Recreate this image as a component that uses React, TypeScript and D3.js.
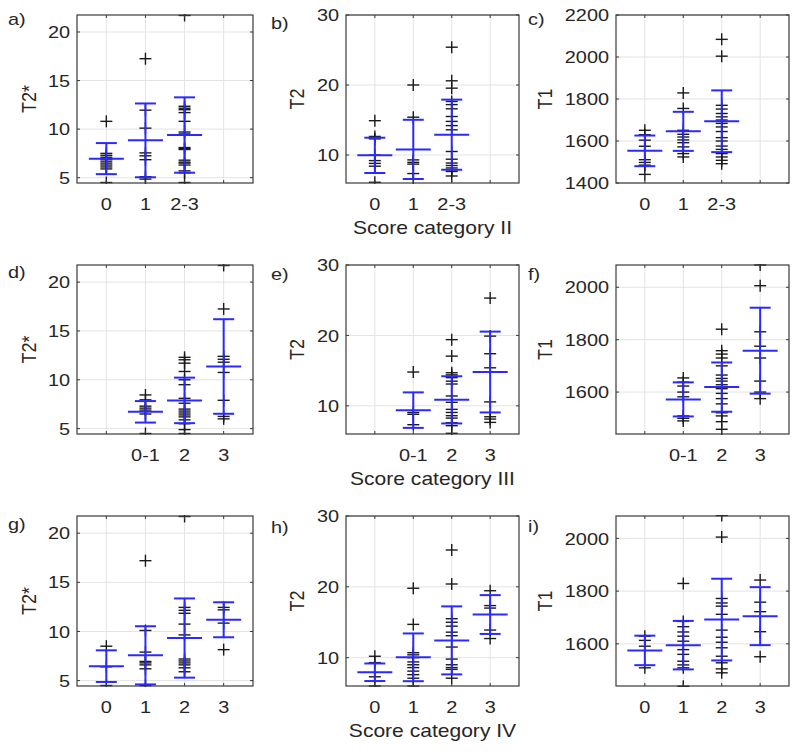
import React from "react";
import * as d3 from "d3";

// ---------- categories ----------
const catsII = ["0", "1", "2-3", ""];
const catsIII = ["", "0-1", "2", "3"];
const catsIV = ["0", "1", "2", "3"];

// ---------- T2* points ----------
const t2sA = [
  [10.8, 7.5, 7.3, 7.1, 6.9, 6.7, 6.5, 6.3, 6.1, 5.9, 4.5],
  [17.25, 11.95, 10.1, 7.55, 7.25, 6.85, 5.1, 4.85],
  [21.7, 12.35, 12.15, 12.0, 11.7, 10.8, 9.7, 9.5, 8.1, 8.0, 7.9, 6.8, 6.6, 6.5, 6.3, 5.7, 5.5, 4.5],
];
const t2sAMean = [6.96, 8.84, 9.39];
const t2sASd = [1.6, 3.8, 3.88];

const t2sD = [
  [8.45, 7.95, 7.3, 7.1, 6.9, 6.5, 4.5],
  [12.3, 12.05, 11.7, 10.85, 10.0, 9.5, 8.1, 7.6, 7.0, 6.8, 6.6, 6.4, 6.2, 5.9, 5.5, 4.9, 4.5],
  [21.7, 17.25, 12.4, 12.1, 11.8, 10.75, 7.9, 6.25, 6.0],
];
const t2sDMean = [6.72, 7.89, 11.36];
const t2sDSd = [1.1, 2.33, 4.84];

const t2sG = [
  [8.5, 6.4, 4.5],
  [17.2, 10.1, 7.9, 6.95, 6.8, 6.6, 6.2, 4.5],
  [21.7, 12.45, 12.15, 11.85, 10.75, 9.65, 7.2, 7.0, 6.8, 6.6, 6.3, 5.9],
  [12.45, 12.2, 10.85, 8.15],
];
const t2sGMean = [6.47, 7.57, 9.33, 11.19];
const t2sGSd = [1.61, 2.96, 4.03, 1.78];

// ---------- T2 points ----------
const t2B = [
  [14.9, 12.65, 12.3, 10.0, 9.2, 8.8, 8.4, 6.1],
  [20.0, 15.4, 9.3, 8.95, 8.7, 7.35, 6.6],
  [25.4, 20.6, 19.55, 17.65, 17.2, 16.6, 15.5, 14.8, 14.2, 13.6, 10.5, 9.4, 8.85, 8.5, 8.15, 7.9, 7.65, 7.0],
];
const t2BMean = [9.95, 10.8, 12.9];
const t2BSd = [2.52, 4.23, 5.01];

const t2E = [
  [14.8, 9.06, 8.8, 7.32],
  [19.4, 17.06, 14.7, 14.4, 14.0, 13.5, 13.1, 11.4, 10.5, 9.5, 9.06, 8.6, 8.26, 7.6, 7.18, 6.1],
  [25.3, 19.9, 17.4, 15.4, 10.56, 8.45, 8.12, 7.65],
];
const t2EMean = [9.39, 10.85, 14.8];
const t2ESd = [2.52, 3.35, 5.74];

const t2H = [
  [10.2, 9.3, 7.3, 6.0],
  [19.8, 14.7, 10.7, 10.4, 10.0, 9.4, 9.0, 8.6, 8.1, 7.6, 7.1, 6.0],
  [25.2, 20.4, 15.5, 15.0, 14.45, 13.6, 13.1, 11.5, 9.8, 9.0, 8.6, 8.35, 7.1],
  [19.45, 17.35, 17.0, 13.9, 12.7],
];
const t2HMean = [7.94, 10.05, 12.44, 16.09];
const t2HSd = [1.24, 3.37, 4.8, 2.74];

// ---------- T1 points ----------
const t1C = [
  [1651, 1630, 1604, 1575, 1511, 1498, 1485, 1441],
  [1829, 1755, 1651, 1632, 1619, 1605, 1592, 1572, 1540, 1524],
  [2084, 2004, 1770, 1752, 1731, 1715, 1700, 1684, 1667, 1645, 1616, 1600, 1576, 1560, 1540, 1524, 1508, 1492],
];
const t1CMean = [1553, 1646, 1694];
const t1CSd = [73, 93, 147];

const t1F = [
  [1654, 1638, 1623, 1600, 1582, 1509, 1500, 1490],
  [1840, 1758, 1745, 1730, 1700, 1665, 1652, 1642, 1628, 1613, 1595, 1575, 1555, 1521, 1509, 1487, 1458],
  [2085, 2006, 1830, 1775, 1730, 1642, 1600, 1575],
];
const t1FMean = [1572, 1619, 1758];
const t1FSd = [65, 94, 164];

const t1I = [
  [1629, 1613, 1591, 1509],
  [1829, 1685, 1665, 1645, 1629, 1610, 1578, 1560, 1534, 1520, 1509, 1439],
  [2087, 2005, 1772, 1755, 1743, 1712, 1652, 1625, 1606, 1585, 1553, 1528, 1505, 1490],
  [1842, 1758, 1722, 1646, 1551],
];
const t1IMean = [1575, 1595, 1692, 1705];
const t1ISd = [56, 92, 155, 110];

// ---------- ticks ----------
const t2sTicks = [5, 10, 15, 20];
const t2Ticks = [10, 20, 30];
const t1TicksC = [1400, 1600, 1800, 2000, 2200];
const t1TicksFI = [1600, 1800, 2000];

const FONT = "'Liberation Sans', Arial, Helvetica, sans-serif";
const TXT = "#262626";
const BLUE = "#2a2aff";
const SX = 1.17;

function T(props: { x: number; y: number; anchor?: string; size: number; dy?: string; children: React.ReactNode }) {
  return (
    <g transform={`translate(${props.x},${props.y}) scale(${SX},1)`}>
      <text x={0} y={0} dy={props.dy} textAnchor={props.anchor || "start"} fontSize={props.size} fill={TXT} fontFamily={FONT}>
        {props.children}
      </text>
    </g>
  );
}

type PanelProps = {
  letter: string;
  left: number;
  right: number;
  top: number;
  bottom: number;
  yDomain: [number, number];
  yTicks: number[];
  yLabel: string;
  cats: string[];
  startPos: number;
  points: number[][];
  means: number[];
  sds: number[];
  xTitle?: string;
  letterDy: number;
  letterX: number;
  yLabelX: number;
};

function Panel(p: PanelProps) {
  const x = d3.scaleLinear().domain([0.25, 4.75]).range([p.left, p.right]);
  const y = d3.scaleLinear().domain(p.yDomain).range([p.bottom, p.top]);
  const xTicks = [1, 2, 3, 4];
  const clipId = "clip-" + p.letter;
  const mk = 6;
  return (
    <g>
      <defs>
        <clipPath id={clipId}>
          <rect x={p.left - 20} y={p.top - 1} width={p.right - p.left + 40} height={p.bottom - p.top + 2} />
        </clipPath>
      </defs>
      <rect x={p.left} y={p.top} width={p.right - p.left} height={p.bottom - p.top} fill="#fff" />
      {xTicks.map((t) => (
        <line key={"gx" + t} x1={x(t)} x2={x(t)} y1={p.top} y2={p.bottom} stroke="#e3e3e3" strokeWidth={1} />
      ))}
      {p.yTicks.map((t) => (
        <line key={"gy" + t} x1={p.left} x2={p.right} y1={y(t)} y2={y(t)} stroke="#e3e3e3" strokeWidth={1} />
      ))}
      <g clipPath={`url(#${clipId})`}>
        {p.points.map((arr, i) =>
          arr.map((v, j) => {
            const cx = x(p.startPos + i);
            const cy = y(v);
            return (
              <g key={`p${i}-${j}`} stroke="#1a1a1a" strokeWidth={1.4}>
                <line x1={cx - mk} x2={cx + mk} y1={cy} y2={cy} />
                <line x1={cx} x2={cx} y1={cy - mk} y2={cy + mk} />
              </g>
            );
          })
        )}
        {p.means.map((m, i) => {
          const cx = x(p.startPos + i);
          const hi = y(m + p.sds[i]);
          const lo = y(m - p.sds[i]);
          const ym = y(m);
          return (
            <g key={"e" + i} stroke={BLUE} strokeWidth={2}>
              <line x1={cx} x2={cx} y1={hi} y2={lo} />
              <line x1={cx - 10.5} x2={cx + 10.5} y1={hi} y2={hi} />
              <line x1={cx - 10.5} x2={cx + 10.5} y1={lo} y2={lo} />
              <line x1={cx - 17.5} x2={cx + 17.5} y1={ym} y2={ym} />
            </g>
          );
        })}
      </g>
      <rect x={p.left} y={p.top} width={p.right - p.left} height={p.bottom - p.top} fill="none" stroke="#3a3a3a" strokeWidth={1.2} />
      {xTicks.map((t) => (
        <g key={"tx" + t} stroke="#3a3a3a" strokeWidth={1}>
          <line x1={x(t)} x2={x(t)} y1={p.bottom} y2={p.bottom - 3} />
          <line x1={x(t)} x2={x(t)} y1={p.top} y2={p.top + 3} />
        </g>
      ))}
      {p.yTicks.map((t) => (
        <g key={"ty" + t} stroke="#3a3a3a" strokeWidth={1}>
          <line x1={p.left} x2={p.left + 3} y1={y(t)} y2={y(t)} />
          <line x1={p.right} x2={p.right - 3} y1={y(t)} y2={y(t)} />
        </g>
      ))}
      {p.yTicks.map((t) => (
        <T key={"yl" + t} x={p.left - 7} y={y(t)} dy="0.36em" anchor="end" size={17}>
          {t}
        </T>
      ))}
      {p.cats.map((c, i) => (
        <T key={"xl" + i} x={x(i + 1)} y={p.bottom + 27} anchor="middle" size={17}>
          {c}
        </T>
      ))}
      <text
        transform={`translate(${p.yLabelX},${(p.top + p.bottom) / 2}) rotate(-90) scale(1,${SX})`}
        textAnchor="middle"
        fontSize={18}
        fill={TXT}
        fontFamily={FONT}
        dy="0.35em"
      >
        {p.yLabel}
      </text>
      {p.xTitle && (
        <T x={(p.left + p.right) / 2} y={p.bottom + 51} anchor="middle" size={18}>
          {p.xTitle}
        </T>
      )}
      <T x={p.letterX} y={p.top + p.letterDy} size={17}>
        {p.letter + ")"}
      </T>
    </g>
  );
}

const cols = [
  { left: 77, right: 253, yLabelX: 29, letterX: 8 },
  { left: 346, right: 519, yLabelX: 297, letterX: 271 },
  { left: 616, right: 789, yLabelX: 545, letterX: 528 },
];
const rows = [
  { top: 15, bottom: 183 },
  { top: 265, bottom: 434 },
  { top: 516, bottom: 686 },
];

export default function App() {
  const t2sDom: [number, number] = [4.45, 21.75];
  const t2Dom: [number, number] = [6, 30];
  const panels: PanelProps[] = [
    { letter: "a", ...cols[0], ...rows[0], yDomain: t2sDom, yTicks: t2sTicks, yLabel: "T2*", cats: catsII, startPos: 1, points: t2sA, means: t2sAMean, sds: t2sASd, letterDy: 10 },
    { letter: "b", ...cols[1], ...rows[0], yDomain: t2Dom, yTicks: t2Ticks, yLabel: "T2", cats: catsII, startPos: 1, points: t2B, means: t2BMean, sds: t2BSd, xTitle: "Score category II", letterDy: 14 },
    { letter: "c", ...cols[2], ...rows[0], yDomain: [1400, 2200], yTicks: t1TicksC, yLabel: "T1", cats: catsII, startPos: 1, points: t1C, means: t1CMean, sds: t1CSd, letterDy: 10 },
    { letter: "d", ...cols[0], ...rows[1], yDomain: t2sDom, yTicks: t2sTicks, yLabel: "T2*", cats: catsIII, startPos: 2, points: t2sD, means: t2sDMean, sds: t2sDSd, letterDy: 13 },
    { letter: "e", ...cols[1], ...rows[1], yDomain: t2Dom, yTicks: t2Ticks, yLabel: "T2", cats: catsIII, startPos: 2, points: t2E, means: t2EMean, sds: t2ESd, xTitle: "Score category III", letterDy: 15 },
    { letter: "f", ...cols[2], ...rows[1], yDomain: [1440, 2085], yTicks: t1TicksFI, yLabel: "T1", cats: catsIII, startPos: 2, points: t1F, means: t1FMean, sds: t1FSd, letterDy: 15 },
    { letter: "g", ...cols[0], ...rows[2], yDomain: t2sDom, yTicks: t2sTicks, yLabel: "T2*", cats: catsIV, startPos: 1, points: t2sG, means: t2sGMean, sds: t2sGSd, letterDy: 14 },
    { letter: "h", ...cols[1], ...rows[2], yDomain: t2Dom, yTicks: t2Ticks, yLabel: "T2", cats: catsIV, startPos: 1, points: t2H, means: t2HMean, sds: t2HSd, xTitle: "Score category IV", letterDy: 17 },
    { letter: "i", ...cols[2], ...rows[2], yDomain: [1440, 2085], yTicks: t1TicksFI, yLabel: "T1", cats: catsIV, startPos: 1, points: t1I, means: t1IMean, sds: t1ISd, letterDy: 16 },
  ];
  return (
    <svg width={800} height={754} style={{ position: "absolute", left: 0, top: 0, background: "#fff" }}>
      <rect width={800} height={754} fill="#fff" />
      {panels.map((p) => (
        <Panel key={p.letter} {...p} />
      ))}
    </svg>
  );
}
